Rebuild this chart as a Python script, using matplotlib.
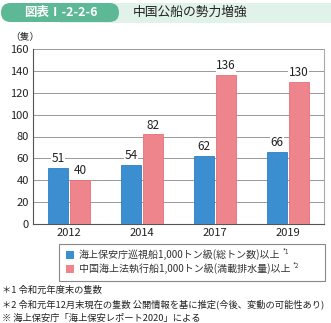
import matplotlib
matplotlib.use("Agg")
import matplotlib.pyplot as plt
from matplotlib.patches import FancyBboxPatch, Rectangle
import numpy as np

plt.rcParams['font.family'] = ['Noto Sans CJK JP', 'DejaVu Sans']

years = ["2012", "2014", "2017", "2019"]
jcg = [51, 54, 62, 66]
china = [40, 82, 136, 130]
yticks = [0, 20, 40, 60, 80, 100, 120, 140, 160]
legend_labels = ["海上保安庁巡視船1,000トン級(総トン数)以上", "中国海上法執行船1,000トン級(満載排水量)以上"]
legend_marks = ["*1", "*2"]
notes = ["＊1 令和元年度末の隻数",
         "＊2 令和元年12月末現在の隻数 公開情報を基に推定(今後、変動の可能性あり)",
         "※ 海上保安庁「海上保安レポート2020」による"]
title_tag = "図表Ⅰ-2-2-6"
title = "中国公船の勢力増強"

W, H = 331, 323
fig = plt.figure(figsize=(W/100, H/100), dpi=100)

# overlay axes in pixel coordinates for decorations
ov = fig.add_axes([0, 0, 1, 1], zorder=-1)
ov.set_xlim(0, W)
ov.set_ylim(H, 0)
ov.axis("off")

ov.add_patch(Rectangle((60, 3), 271, 20, facecolor="#e0f2e9", edgecolor="none"))
ov.add_patch(FancyBboxPatch((1, 3), 118, 19, boxstyle="round,pad=0,rounding_size=9.5",
                            facecolor="#5db895", edgecolor="none"))
ov.text(61, 12.5, title_tag, color="white", fontsize=9, fontweight="bold", ha="center", va="center")
ov.text(133, 12.5, title, color="#222222", fontsize=9.2, ha="left", va="center")
ov.text(10, 37, "（隻）", fontsize=7, color="#222222", ha="left", va="center")

ax = fig.add_axes([33/W, 1 - 224/H, 291/W, (224-49)/H])
x = np.arange(len(years))
w = 0.275
b1 = ax.bar(x - w/2 - 0.015, jcg, w, color="#3b8fd1", edgecolor="#2f7fc2", linewidth=0.6, zorder=3)
b2 = ax.bar(x + w/2 + 0.015, china, w, color="#ee848c", edgecolor="#e86f79", linewidth=0.6, zorder=3)
for rects, vals in ((b1, jcg), (b2, china)):
    for r, v in zip(rects, vals):
        ax.annotate(str(v), (r.get_x() + r.get_width()/2, v), xytext=(0, 2),
                    textcoords="offset points", ha="center", va="bottom",
                    fontsize=8.5, color="#222222", zorder=4,
                    bbox=dict(facecolor="white", edgecolor="none", pad=0.3))
ax.set_xlim(-0.5, 3.5)
ax.set_ylim(0, 160)
ax.set_yticks(yticks)
ax.set_yticklabels([str(t) for t in yticks], fontsize=8, color="#222222")
ax.set_xticks(x)
ax.set_xticklabels(years, fontsize=8, color="#222222")
ax.tick_params(length=0, pad=3)
ax.yaxis.grid(True, color="#999999", linewidth=0.7, zorder=0)
ax.set_axisbelow(True)
ax.spines["top"].set_visible(False)
ax.spines["left"].set_color("#555555")
ax.spines["bottom"].set_color("#555555")
ax.spines["right"].set_color("#aaaaaa")
ax.spines["left"].set_linewidth(0.8)
ax.spines["right"].set_linewidth(0.8)

# legend box
ov.add_patch(Rectangle((59, 244), 266, 37, facecolor="white", edgecolor="#888888", linewidth=0.8))
fig.canvas.draw()
for i, (lab, mk, col) in enumerate(zip(legend_labels, legend_marks, ["#3b8fd1", "#ee848c"])):
    yy = 255 + i * 13.5
    ov.add_patch(Rectangle((66, yy - 4), 8, 8, facecolor=col, edgecolor="none"))
    t = ov.text(79, yy, lab, fontsize=7.2, color="#333333", ha="left", va="center")
    fig.canvas.draw()
    bb = t.get_window_extent()
    ov.text(bb.x1 + 2, yy - 3, mk, fontsize=4.5, color="#333333", ha="left", va="center")

for i, n in enumerate(notes):
    ov.text(2, 290 + i * 14, n, fontsize=6.7, color="#222222", ha="left", va="center")

fig.savefig("out.png", dpi=100)
